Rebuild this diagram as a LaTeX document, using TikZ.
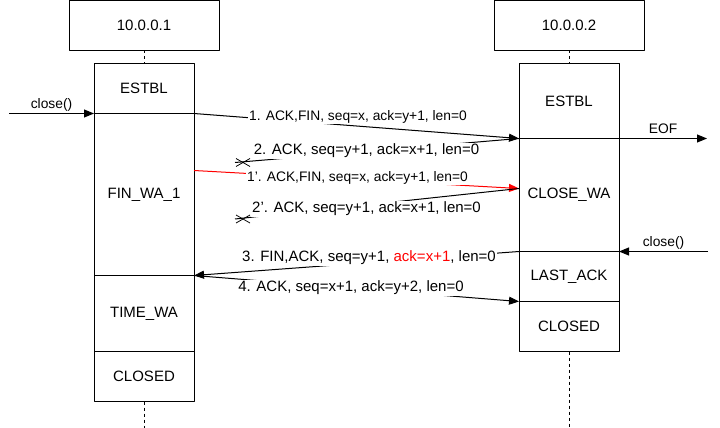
\documentclass[tikz,border=0pt]{standalone}
\usepackage{fontspec}
\setmainfont{Liberation Sans}
\usetikzlibrary{positioning,arrows.meta}
\begin{document}
\begin{tikzpicture}[x=1pt, y=-1pt, line width=1pt, line join=round, >={Triangle[length=10pt,width=8pt]},
	host/.style={draw, minimum width=150pt, minimum height=50pt, inner sep=0pt, outer sep=0pt, font=\fontsize{15}{18}\selectfont},
	state/.style={draw, minimum width=100pt, inner sep=0pt, outer sep=0pt, font=\fontsize{15}{18}\selectfont},
	msg/.style={fill=white, inner sep=1pt, font=\fontsize{15}{18}\selectfont},
	note/.style={fill=white, inner sep=1pt, font=\fontsize{13.8}{16}\selectfont}]
	\useasboundingbox (0,0) rectangle (720,428);
	\node[host] (hostA) at (144,25.5) {10.0.0.1};
	\node[host] (hostB) at (569,25.5) {10.0.0.2};
	\node[state, minimum height=50pt, below=13pt of hostA] (estA) {ESTBL};
	\node[state, minimum height=162pt, below=0pt of estA] (finA) {FIN\_WA\_1};
	\node[state, minimum height=76pt, below=0pt of finA] (timeA) {TIME\_WA};
	\node[state, minimum height=50pt, below=0pt of timeA] (closedA) {CLOSED};
	\node[state, minimum height=75pt, below=13pt of hostB] (estB) {ESTBL};
	\node[state, minimum height=113pt, below=0pt of estB] (closeB) {CLOSE\_WA};
	\node[state, minimum height=50pt, below=0pt of closeB] (lastB) {LAST\_ACK};
	\node[state, minimum height=50pt, below=0pt of lastB] (closedB) {CLOSED};
	\draw[dashed] (hostA) -- (estA) (closedA.south) -- ++(0,27);
	\draw[dashed] (hostB) -- (estB) (closedB.south) -- ++(0,77);

	\path (estA.south west) ++(-85,0) coordinate (inA);
	\path (estB.south east) ++(88,0) coordinate (eofB);
	\path (lastB.north east) ++(89,0) coordinate (inB);
	\path (finA.north east) ++(0,57) coordinate (resA);
	\path (closeB.north west) ++(0,50) coordinate (resB);
	\coordinate (lost1) at (235,162.5);
	\coordinate (lost2) at (235,219);

	\draw[->] (inA) -- (estA.south west) node[midway, above, inner sep=2pt, font=\fontsize{13.8}{16}\selectfont] (closeA) {close()};
	\draw[->] (estB.south east) -- (eofB) node[midway, above=2pt, inner sep=2pt, font=\fontsize{13.8}{16}\selectfont] (eof) {EOF};
	\draw[->] (inB) -- (lastB.north east) node[midway, above, inner sep=2pt, font=\fontsize{13.8}{16}\selectfont] (closeBl) {close()};
	\draw[->] (estA.south east) -- (estB.south west);
	\draw (estB.south west) -- (lost1);
	\draw[->, red] (resA) -- (resB);
	\draw (resB) -- (lost2);
	\draw[->] (lastB.north west) -- (timeA.north east);
	\draw[->] (timeA.north east) -- (closedB.north west);
	\foreach \c in {lost1,lost2}
		\draw[line width=0.8pt] (\c) ++(1,-4) -- ++(14,8) ++(0,-8) -- ++(-14,8);

	\node[note] (m1) at (358,117) {1. ACK,FIN, seq=x, ack=y+1, len=0};
	\node[msg] (m2) at (366.5,151) {2. ACK, seq=y+1, ack=x+1, len=0};
	\node[note] (m1r) at (357.5,178) {1'. ACK,FIN, seq=x, ack=y+1, len=0};
	\node[msg] (m2r) at (366.5,209) {2'. ACK, seq=y+1, ack=x+1, len=0};
	\node[msg] (m3) at (369,258) {3. FIN,ACK, seq=y+1, \textcolor{red}{ack=x+1}, len=0};
	\node[msg] (m4) at (351,288) {4. ACK, seq=x+1, ack=y+2, len=0};
\end{tikzpicture}
\end{document}
